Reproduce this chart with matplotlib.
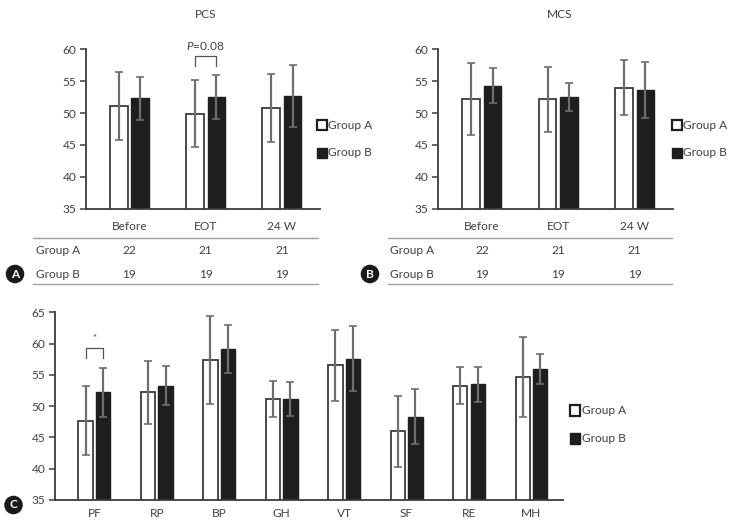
import numpy as np
import matplotlib
matplotlib.use("Agg")
import matplotlib.pyplot as plt
from matplotlib.patches import Rectangle
from matplotlib.lines import Line2D
import matplotlib.transforms as mtransforms

plt.rcParams['font.family'] = ['Lato', 'DejaVu Sans']
plt.rcParams['mathtext.fontset'] = 'custom'
plt.rcParams['mathtext.it'] = 'Lato:italic'
plt.rcParams['mathtext.rm'] = 'Lato'

# data
times = ["Before", "EOT", "24 W"]
n_group_a = [22, 21, 21]
n_group_b = [19, 19, 19]

pcs_a = [51.1, 49.9, 50.8]
pcs_a_sd = [5.35, 5.3, 5.4]
pcs_b = [52.3, 52.5, 52.7]
pcs_b_sd = [3.4, 3.45, 4.9]

mcs_a = [52.2, 52.2, 54.0]
mcs_a_sd = [5.6, 5.1, 4.3]
mcs_b = [54.3, 52.5, 53.6]
mcs_b_sd = [2.75, 2.15, 4.4]

domains = ["PF", "RP", "BP", "GH", "VT", "SF", "RE", "MH"]
dom_a = [47.7, 52.2, 57.4, 51.1, 56.5, 46.0, 53.3, 54.6]
dom_a_sd = [5.55, 5.0, 7.0, 2.9, 5.75, 5.67, 2.9, 6.4]
dom_b = [52.2, 53.3, 59.1, 51.2, 57.6, 48.3, 53.5, 55.9]
dom_b_sd = [3.95, 3.15, 3.8, 2.7, 5.2, 4.4, 2.8, 2.4]

W, H = 733, 528
TXT = '#404040'
SPINE = '#3c3c3c'
ERR = '#6e6e6e'
FS = 8.6

fig = plt.figure(figsize=(W / 100, H / 100), dpi=100)


def fx(x):
    return x / W


def fy(y):
    return 1 - y / H


def px_axes(left, top, right, bottom):
    return fig.add_axes([fx(left), fy(bottom), (right - left) / W, (bottom - top) / H])


def draw_bars(ax, labels, a, a_sd, b, b_sd, ylim, xlim, pad):
    x = np.arange(len(labels))
    w = 0.23
    off = 0.14
    ek = dict(ecolor=ERR, elinewidth=1.6, capsize=2.6, capthick=1.2)
    ax.bar(x - off, a, w, color='white', edgecolor=SPINE, linewidth=1.3,
           yerr=a_sd, error_kw=ek, zorder=2)
    ax.bar(x + off, b, w, color='#1e1e1e', edgecolor='#1e1e1e', linewidth=1.0,
           yerr=b_sd, error_kw=ek, zorder=2)
    ax.set_ylim(*ylim)
    ax.set_xlim(*xlim)
    ax.set_yticks(np.arange(ylim[0], ylim[1] + 1, 5))
    ax.set_xticks(x)
    ax.set_xticklabels(labels)
    for s in ['top', 'right']:
        ax.spines[s].set_visible(False)
    for s in ['left', 'bottom']:
        ax.spines[s].set_color(SPINE)
        ax.spines[s].set_linewidth(1.3)
    ax.tick_params(axis='y', direction='out', length=4, width=1.1, color=SPINE,
                   labelsize=FS, labelcolor=TXT, pad=3)
    ax.tick_params(axis='x', length=0, labelsize=FS, labelcolor=TXT, pad=pad)
    ax.patch.set_alpha(0)
    return x


def bracket(ax, xi, tops, leg, top, label, fs):
    x0, x1 = xi - 0.14, xi + 0.14
    base = max(tops)
    ax.plot([x0, x0, x1, x1], [base + leg, base + top, base + top, base + leg],
            color='#555555', lw=0.9, clip_on=False, zorder=3)
    ax.text(xi, base + top + 0.7, label, ha='center', va='bottom', fontsize=fs,
            color=TXT, clip_on=False)


def legend(x, y_a, y_b, size):
    fig.add_artist(Rectangle((fx(x), fy(y_a + size / 2)), size / W, size / H,
                             transform=fig.transFigure, facecolor='white',
                             edgecolor='#1e1e1e', linewidth=1.6))
    fig.add_artist(Rectangle((fx(x), fy(y_b + size / 2)), size / W, size / H,
                             transform=fig.transFigure, facecolor='#1e1e1e',
                             edgecolor='#1e1e1e', linewidth=1.0))
    fig.text(fx(x + size + 1.5), fy(y_a), "Group A", fontsize=FS, color=TXT, va='center')
    fig.text(fx(x + size + 1.5), fy(y_b), "Group B", fontsize=FS, color=TXT, va='center')


def table(ax, left, right, label_x, na, nb):
    tr = mtransforms.blended_transform_factory(ax.transData, fig.transFigure)
    for yy in [238.3, 284.3]:
        fig.add_artist(Line2D([fx(left), fx(right)], [fy(yy), fy(yy)],
                              transform=fig.transFigure, color='#a0a0a0', lw=1.0))
    fig.text(fx(label_x), fy(250.7), "Group A", fontsize=FS, color=TXT, va='center')
    fig.text(fx(label_x), fy(274), "Group B", fontsize=FS, color=TXT, va='center')
    for i, (va_, vb_) in enumerate(zip(na, nb)):
        ax.text(i, fy(250.7), str(va_), transform=tr, ha='center', va='center',
                fontsize=FS, color=TXT)
        ax.text(i, fy(274), str(vb_), transform=tr, ha='center', va='center',
                fontsize=FS, color=TXT)


def badge(x, y, letter):
    fig.text(fx(x), fy(y), letter, ha='center', va='center', fontsize=8.5,
             fontweight='bold', color='white',
             bbox=dict(boxstyle='circle,pad=0.32', fc='#1a1a1a', ec='none'))


# panel A
ax_a = px_axes(86, 49.3, 320, 208.7)
draw_bars(ax_a, times, pcs_a, pcs_a_sd, pcs_b, pcs_b_sd, (35, 60), (-0.57, 2.5), 9)
bracket(ax_a, 1, [pcs_a[1] + pcs_a_sd[1], pcs_b[1] + pcs_b_sd[1]], 1.4, 3.0,
        r'$\mathit{P}$=0.08', FS)
fig.text(fx(205.7), fy(14), "PCS", ha='center', va='center', fontsize=FS, color=TXT)
table(ax_a, 33, 318, 36, n_group_a, n_group_b)
legend(317, 125, 152.5, 10)
badge(15, 274, "A")

# panel B
ax_b = px_axes(438.3, 49.3, 673, 208.7)
draw_bars(ax_b, times, mcs_a, mcs_a_sd, mcs_b, mcs_b_sd, (35, 60), (-0.57, 2.5), 9)
fig.text(fx(560), fy(14), "MCS", ha='center', va='center', fontsize=FS, color=TXT)
table(ax_b, 388, 672, 390, n_group_a, n_group_b)
legend(671.7, 125, 152.5, 10)
badge(370, 274, "B")

# panel C
ax_c = px_axes(55, 312.3, 562.7, 500)
draw_bars(ax_c, domains, dom_a, dom_a_sd, dom_b, dom_b_sd, (35, 65), (-0.63, 7.5), 6)
bracket(ax_c, 0, [dom_b[0] + dom_b_sd[0]], 1.5, 3.2, "*", 7)
legend(569.5, 410.5, 438.7, 10.5)
badge(13.5, 505, "C")

fig.savefig("out.png", dpi=100)
